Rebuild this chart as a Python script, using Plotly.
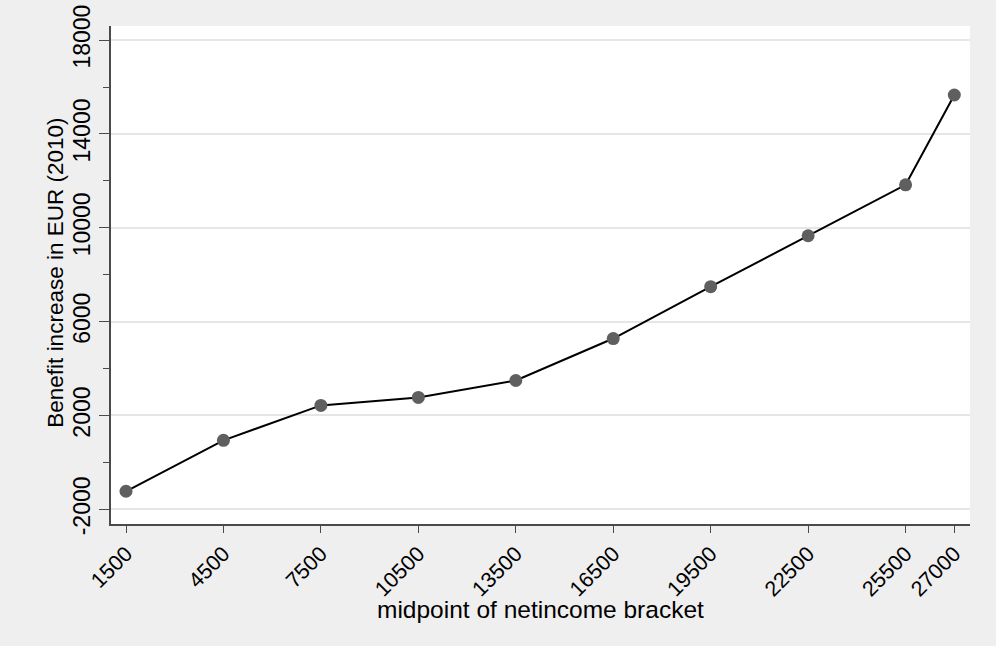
import plotly.graph_objects as go

# midpoints of net income brackets and the benefit increase
midpoints = [1500, 4500, 7500, 10500, 13500, 16500, 19500, 22500, 25500, 27000]
benefit = [-1230, 940, 2430, 2770, 3490, 5280, 7490, 9660, 11830, 15660]

x_ticks = midpoints
y_ticks = [-2000, 2000, 6000, 10000, 14000, 18000]

x_title = "midpoint of netincome bracket"
y_title = "Benefit increase in EUR (2010)"

font = "Liberation Sans, Arial, sans-serif"
axis_col = "#4a4a4a"

fig = go.Figure()
fig.add_trace(go.Scatter(
    x=midpoints,
    y=benefit,
    mode="lines+markers",
    line=dict(color="black", width=2),
    marker=dict(color="#5f5f5f", size=13),
    showlegend=False,
))

fig.update_layout(
    width=996, height=646,
    margin=dict(l=111, r=26, t=26, b=122),
    paper_bgcolor="#efefef",
    plot_bgcolor="white",
    font=dict(family=font, color="black", size=23),
)

fig.update_xaxes(
    range=[1038, 27483],
    tickmode="array", tickvals=x_ticks, ticktext=[str(v) for v in x_ticks],
    tickangle=-45,
    ticks="outside", ticklen=7, tickwidth=1.3, tickcolor=axis_col,
    showline=True, linecolor=axis_col, linewidth=1.5,
    showgrid=False, zeroline=False,
    tickfont=dict(size=21.5),
    automargin=False,
)

fig.update_yaxes(
    range=[-2625, 18600],
    tickmode="array", tickvals=y_ticks, ticktext=[str(v) for v in y_ticks],
    tickangle=-90,
    ticks="outside", ticklen=10, tickwidth=1.3, tickcolor=axis_col,
    minor=dict(dtick=2000, tick0=0, ticklen=6, tickcolor=axis_col, ticks="outside", showgrid=False),
    showline=True, linecolor=axis_col, linewidth=1.5,
    showgrid=True, gridcolor="#e6e6e6", gridwidth=1.5,
    zeroline=False,
    tickfont=dict(size=23),
    automargin=False,
)

# axis titles as annotations so they sit where the original puts them
fig.add_annotation(text=x_title, xref="paper", yref="paper", x=0.5, y=-0.171,
                   xanchor="center", yanchor="middle", showarrow=False,
                   font=dict(size=24.5))
fig.add_annotation(text=y_title, xref="paper", yref="paper", x=-0.065, y=0.505,
                   xanchor="center", yanchor="middle", textangle=-90, showarrow=False,
                   font=dict(size=22.5))

# drop the page margin so the 996x646 figure fills the window exactly
fig.write_html("out.html", config={"displayModeBar": False},
               post_script="document.body.style.margin = '0';")
